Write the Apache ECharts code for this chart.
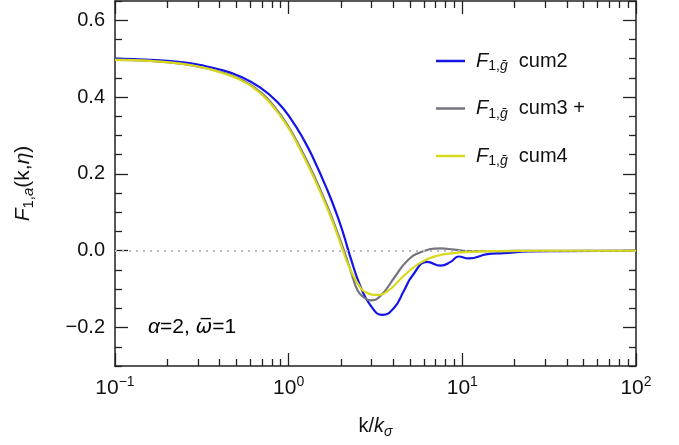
<!DOCTYPE html>
<html>
<head>
<meta charset="utf-8">
<script src="https://cdn.jsdelivr.net/npm/echarts@6/dist/echarts.min.js"></script>
<style>
  html, body { margin: 0; padding: 0; background: #fff; }
  #main { width: 679px; height: 445px; }
</style>
</head>
<body>
<div id="main"></div>
<script>
// values (k/k_sigma, F)
const kCum2 = [0.1, 0.16, 0.239, 0.311, 0.406, 0.529, 0.69, 0.861, 1.027, 1.225, 1.398, 1.67, 1.907, 2.082, 2.275, 2.597, 2.966, 3.463, 4.039, 4.611, 5.155, 6.287, 7.5, 8.56, 9.52, 10.87, 13.93, 17.29, 24.7, 36.8, 100];
const valCum2 = [0.500, 0.497, 0.491, 0.483, 0.471, 0.453, 0.424, 0.387, 0.344, 0.288, 0.237, 0.158, 0.091, 0.039, -0.019, -0.094, -0.143, -0.167, -0.149, -0.104, -0.065, -0.029, -0.039, -0.029, -0.015, -0.020, -0.009, -0.006, -0.002, -0.001, 0];

const kCum3 = [0.1, 0.16, 0.239, 0.311, 0.406, 0.529, 0.69, 0.823, 0.983, 1.172, 1.398, 1.67, 1.907, 2.084, 2.275, 2.486, 2.667, 2.966, 3.385, 4.13, 4.825, 5.754, 7.5, 8.95, 10.69, 14.55, 28, 100];
const valCum3 = [0.497, 0.494, 0.487, 0.478, 0.465, 0.446, 0.412, 0.376, 0.328, 0.266, 0.196, 0.116, 0.048, 0.000, -0.052, -0.102, -0.119, -0.129, -0.117, -0.065, -0.026, -0.004, 0.006, 0.003, -0.001, -0.001, 0, 0];

const kCum4 = [0.1, 0.16, 0.239, 0.311, 0.406, 0.529, 0.69, 0.823, 0.983, 1.172, 1.398, 1.67, 1.907, 2.038, 2.215, 2.597, 2.85, 3.169, 3.7, 4.611, 5.754, 7.18, 8.95, 11.16, 15.9, 28.2, 100];
const valCum4 = [0.497, 0.494, 0.487, 0.478, 0.464, 0.444, 0.409, 0.372, 0.324, 0.261, 0.190, 0.110, 0.042, 0.005, -0.039, -0.097, -0.110, -0.115, -0.106, -0.065, -0.031, -0.013, -0.006, -0.003, -0.001, 0, 0];

const seriesNames = ['cum2', 'cum3 +', 'cum4'];
const seriesColors = ['#1414e8', '#75757d', '#d8d81c'];

const xMajor = [0.1, 1, 10, 100];
const xMinor = [0.2, 0.3, 0.4, 0.5, 0.6, 0.7, 0.8, 0.9, 2, 3, 4, 5, 6, 7, 8, 9, 20, 30, 40, 50, 60, 70, 80, 90];
const yMajor = [-0.2, 0, 0.2, 0.4, 0.6];
const yMinor = [-0.3, -0.25, -0.15, -0.1, -0.05, 0.05, 0.1, 0.15, 0.25, 0.3, 0.35, 0.45, 0.5, 0.55, 0.65];

const FONT = 'Liberation Sans';
const ink = '#111';

function richSet(big, small) {
  return {
    b: { fontFamily: FONT, fontSize: big, color: ink, lineHeight: big + 5, verticalAlign: 'middle' },
    i: { fontFamily: FONT, fontSize: big, fontStyle: 'italic', color: ink, lineHeight: big + 5, verticalAlign: 'middle' },
    o: { fontFamily: 'DejaVu Sans', fontSize: big - 1, fontStyle: 'italic', color: ink, lineHeight: big + 5, verticalAlign: 'middle' },
    sup: { fontFamily: FONT, fontSize: small, color: ink, lineHeight: small, verticalAlign: 'top' },
    sub: { fontFamily: FONT, fontSize: small, color: ink, lineHeight: small, verticalAlign: 'bottom' },
    subi: { fontFamily: FONT, fontSize: small, fontStyle: 'italic', color: ink, lineHeight: small, verticalAlign: 'bottom' }
  };
}

function pairs(ks, vs) {
  return ks.map((k, i) => [k, vs[i]]);
}

function xAx(pos, major) {
  return {
    type: 'log', logBase: 10, min: 0.1, max: 100, position: pos,
    axisLine: { show: major, onZero: false, lineStyle: { color: '#222', width: 1.5 } },
    axisTick: { show: true, inside: true, length: major ? 13 : 7, customValues: major ? xMajor : xMinor,
      lineStyle: { color: '#222', width: 1.3 } },
    axisLabel: { show: major && pos === 'bottom', customValues: xMajor, margin: 9,
      formatter: v => {
        const e = Math.round(Math.log10(v));
        return '{b|10}{sup|' + (e < 0 ? '\u2212' + (-e) : e) + '}';
      },
      rich: richSet(21, 14) },
    splitLine: { show: false },
    minorTick: { show: false }
  };
}

function yAx(pos, major) {
  return {
    type: 'value', min: -0.3, max: 0.65, position: pos,
    axisLine: { show: major, onZero: false, lineStyle: { color: '#222', width: 1.5 } },
    axisTick: { show: true, inside: true, length: major ? 13 : 7, customValues: major ? yMajor : yMinor,
      lineStyle: { color: '#222', width: 1.3 } },
    axisLabel: { show: major && pos === 'left', customValues: yMajor, margin: 10,
      fontFamily: FONT, fontSize: 20, color: ink,
      formatter: v => (v < -1e-9 ? '\u2212' + Math.abs(v).toFixed(1) : Math.abs(v).toFixed(1)) },
    splitLine: { show: false }
  };
}

const xAxes = [xAx('bottom', true), xAx('bottom', false), xAx('top', true), xAx('top', false)];
xAxes[0].name = '{b|k/}{i|k}{subi|\u03c3}';
xAxes[0].nameLocation = 'middle';
xAxes[0].nameGap = 48;
xAxes[0].nameTextStyle = { rich: richSet(20, 14) };

const yAxes = [yAx('left', true), yAx('left', false), yAx('right', true), yAx('right', false)];
yAxes[0].name = '{i|F}{sub|1,}{subi|a}{b|(k,}{i|\u03b7}{b|)}';
yAxes[0].nameLocation = 'middle';
yAxes[0].nameRotate = 90;
yAxes[0].nameGap = 79;
yAxes[0].nameTextStyle = { rich: richSet(21, 15) };

const curves = [pairs(kCum2, valCum2), pairs(kCum3, valCum3), pairs(kCum4, valCum4)];

const series = curves.map((d, i) => ({
  name: seriesNames[i],
  type: 'line',
  data: d,
  xAxisIndex: 0,
  yAxisIndex: 0,
  smooth: 0.5,
  symbol: 'none',
  showSymbol: false,
  color: seriesColors[i],
  lineStyle: { color: seriesColors[i], width: 2.2 },
  z: 3 + i
}));

series[0].markLine = {
  silent: true,
  symbol: 'none',
  label: { show: false },
  lineStyle: { color: '#bbbbbb', type: [2, 5], width: 2 },
  data: [{ yAxis: 0 }]
};

const chart = echarts.init(document.getElementById('main'));

const option = {
  animation: false,
  backgroundColor: '#fff',
  grid: { left: 115, right: 43, top: 1, bottom: 79 },
  xAxis: xAxes,
  yAxis: yAxes,
  legend: {
    orient: 'vertical',
    left: 431,
    top: 46,
    icon: 'rect',
    itemWidth: 29,
    itemHeight: 2.5,
    itemGap: 25,
    data: seriesNames,
    formatter: name => '{i|F}{sub|1,}{subi|g\u0304}{b|  ' + name + '}',
    textStyle: { rich: richSet(20, 14), padding: [0, 0, 0, 6] }
  },
  graphic: [{
    type: 'text',
    left: 148,
    top: 317,
    style: {
      text: '{i|\u03b1}{b|=2, }{o|\u03c9\u0305}{b|=1}',
      rich: richSet(21, 14)
    }
  }],
  series: series
};

chart.setOption(option);
</script>
</body>
</html>
